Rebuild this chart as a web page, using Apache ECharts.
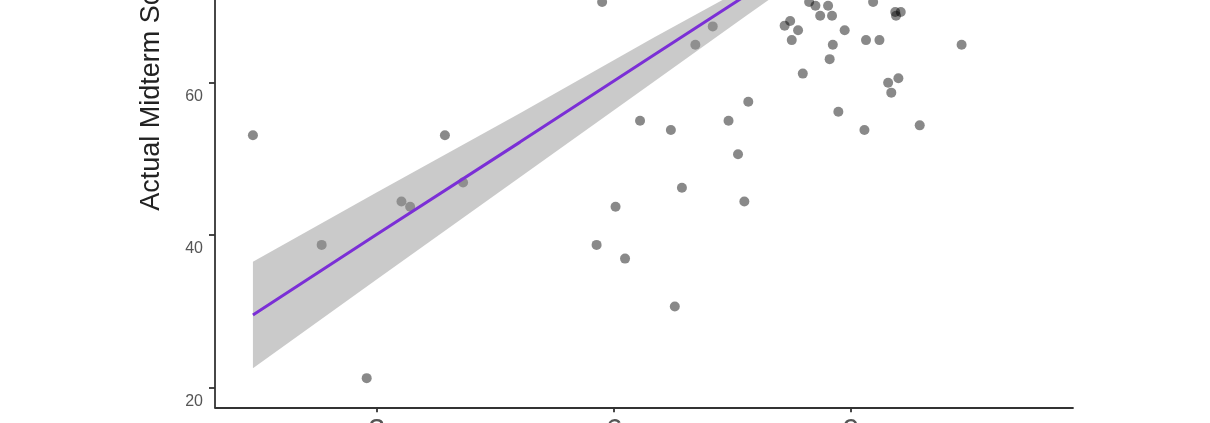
<!DOCTYPE html>
<html>
<head>
<meta charset="utf-8">
<script src="https://cdn.jsdelivr.net/npm/echarts@6/dist/echarts.min.js"></script>
<style>
html,body{margin:0;padding:0;background:#fff;}
#chart{width:1210px;height:423px;}
</style>
</head>
<body>
<div id="chart"></div>
<script>
const studentX = [1.43, 2.30, 2.87, 3.31, 3.42, 3.86, 4.09,
  5.85, 7.25, 7.03, 6.33, 6.72, 7.45, 7.70, 7.57, 6.86, 6.02, 7.65, 5.78, 6.14, 6.77,
  8.16, 8.23, 8.33, 8.25, 8.47, 8.55, 8.61, 8.71, 8.76, 8.92, 8.77, 8.73, 8.39, 8.84,
  9.17, 9.28, 9.19, 9.36, 9.56, 9.63, 9.57, 9.47, 9.60, 9.51, 9.87, 10.40];
const studentY = [53.1, 38.7, 21.2, 44.4, 43.7, 53.1, 46.9,
  70.6, 67.4, 65.0, 55.0, 53.8, 55.0, 57.5, 50.6, 46.2, 43.7, 44.4, 38.7, 36.9, 30.6,
  67.5, 68.1, 66.9, 65.6, 70.6, 70.1, 68.8, 70.1, 68.8, 66.9, 65.0, 63.1, 61.2, 56.2,
  53.8, 70.6, 65.6, 65.6, 69.3, 69.3, 68.8, 60.0, 60.6, 58.7, 54.4, 65.0];

// Fitted regression line and its confidence band
const fitX  = [1.43, 3.0, 4.81, 6.5, 7.66, 9.0, 11.31];
const fitY  = [29.5, 40.1, 52.2, 63.6, 71.4, 80.4, 96.0];
const fitLo = [22.5, 34.2, 47.6, 60.1, 68.7, 78.5, 93.0];
const fitHi = [36.5, 45.6, 56.0, 65.9, 72.5, 82.3, 99.0];

// Tick labels
const xTicks = [3, 6, 9];
const yTicks = [20, 40, 60, 80, 100];

const chart = echarts.init(document.getElementById('chart'), null, {renderer: 'canvas'});
const font = "'Liberation Sans', Arial, Helvetica, sans-serif";

const option = {
  animation: false,
  backgroundColor: '#ffffff',
  grid: {left: 215, right: 137, top: -234, bottom: 15.7, containLabel: false, outerBoundsMode: 'none'},
  xAxis: {
    type: 'value',
    min: 0.95, max: 11.81,
    splitLine: {show: false},
    axisLine: {show: true, onZero: false, lineStyle: {color: '#333', width: 1.8}},
    axisTick: {show: true, length: 5, customValues: xTicks, lineStyle: {color: '#333', width: 1.8}},
    axisLabel: {customValues: xTicks, color: '#555', fontSize: 30, fontFamily: font, margin: 8}
  },
  yAxis: {
    type: 'value',
    min: 17.37, max: 101.6,
    name: 'Actual Midterm Score',
    nameLocation: 'middle',
    nameGap: 50,
    nameTextStyle: {color: '#222', fontSize: 27, fontFamily: font, padding: [0, 0, 0, 10]},
    splitLine: {show: false},
    axisLine: {show: true, onZero: false, lineStyle: {color: '#333', width: 1.8}},
    axisTick: {show: true, length: 6, customValues: yTicks, lineStyle: {color: '#333', width: 1.8}},
    axisLabel: {customValues: yTicks, color: '#555', fontSize: 16, fontFamily: font, margin: 12,
                verticalAlign: 'top', padding: [6, 0, 0, 0]}
  },
  series: [
    {
      type: 'scatter',
      data: studentX.map((x, i) => [x, studentY[i]]),
      symbolSize: 10,
      itemStyle: {color: 'rgba(0,0,0,0.58)'},
      z: 2
    },
    {
      type: 'custom',
      data: fitX.map((x, i) => [x, fitLo[i], fitHi[i]]),
      encode: {x: 0, y: [1, 2]},
      renderItem: function (params, api) {
        if (params.dataIndex !== 0) return null;
        const pts = [];
        for (let i = 0; i < fitX.length; i++) pts.push(api.coord([fitX[i], fitHi[i]]));
        for (let i = fitX.length - 1; i >= 0; i--) pts.push(api.coord([fitX[i], fitLo[i]]));
        return {type: 'polygon', shape: {points: pts}, style: {fill: 'rgba(150,150,150,0.5)'}};
      },
      z: 3
    },
    {
      type: 'line',
      data: fitX.map((x, i) => [x, fitY[i]]),
      showSymbol: false,
      lineStyle: {color: '#7b2fd6', width: 3},
      z: 4
    }
  ]
};
chart.setOption(option);
</script>
</body>
</html>
